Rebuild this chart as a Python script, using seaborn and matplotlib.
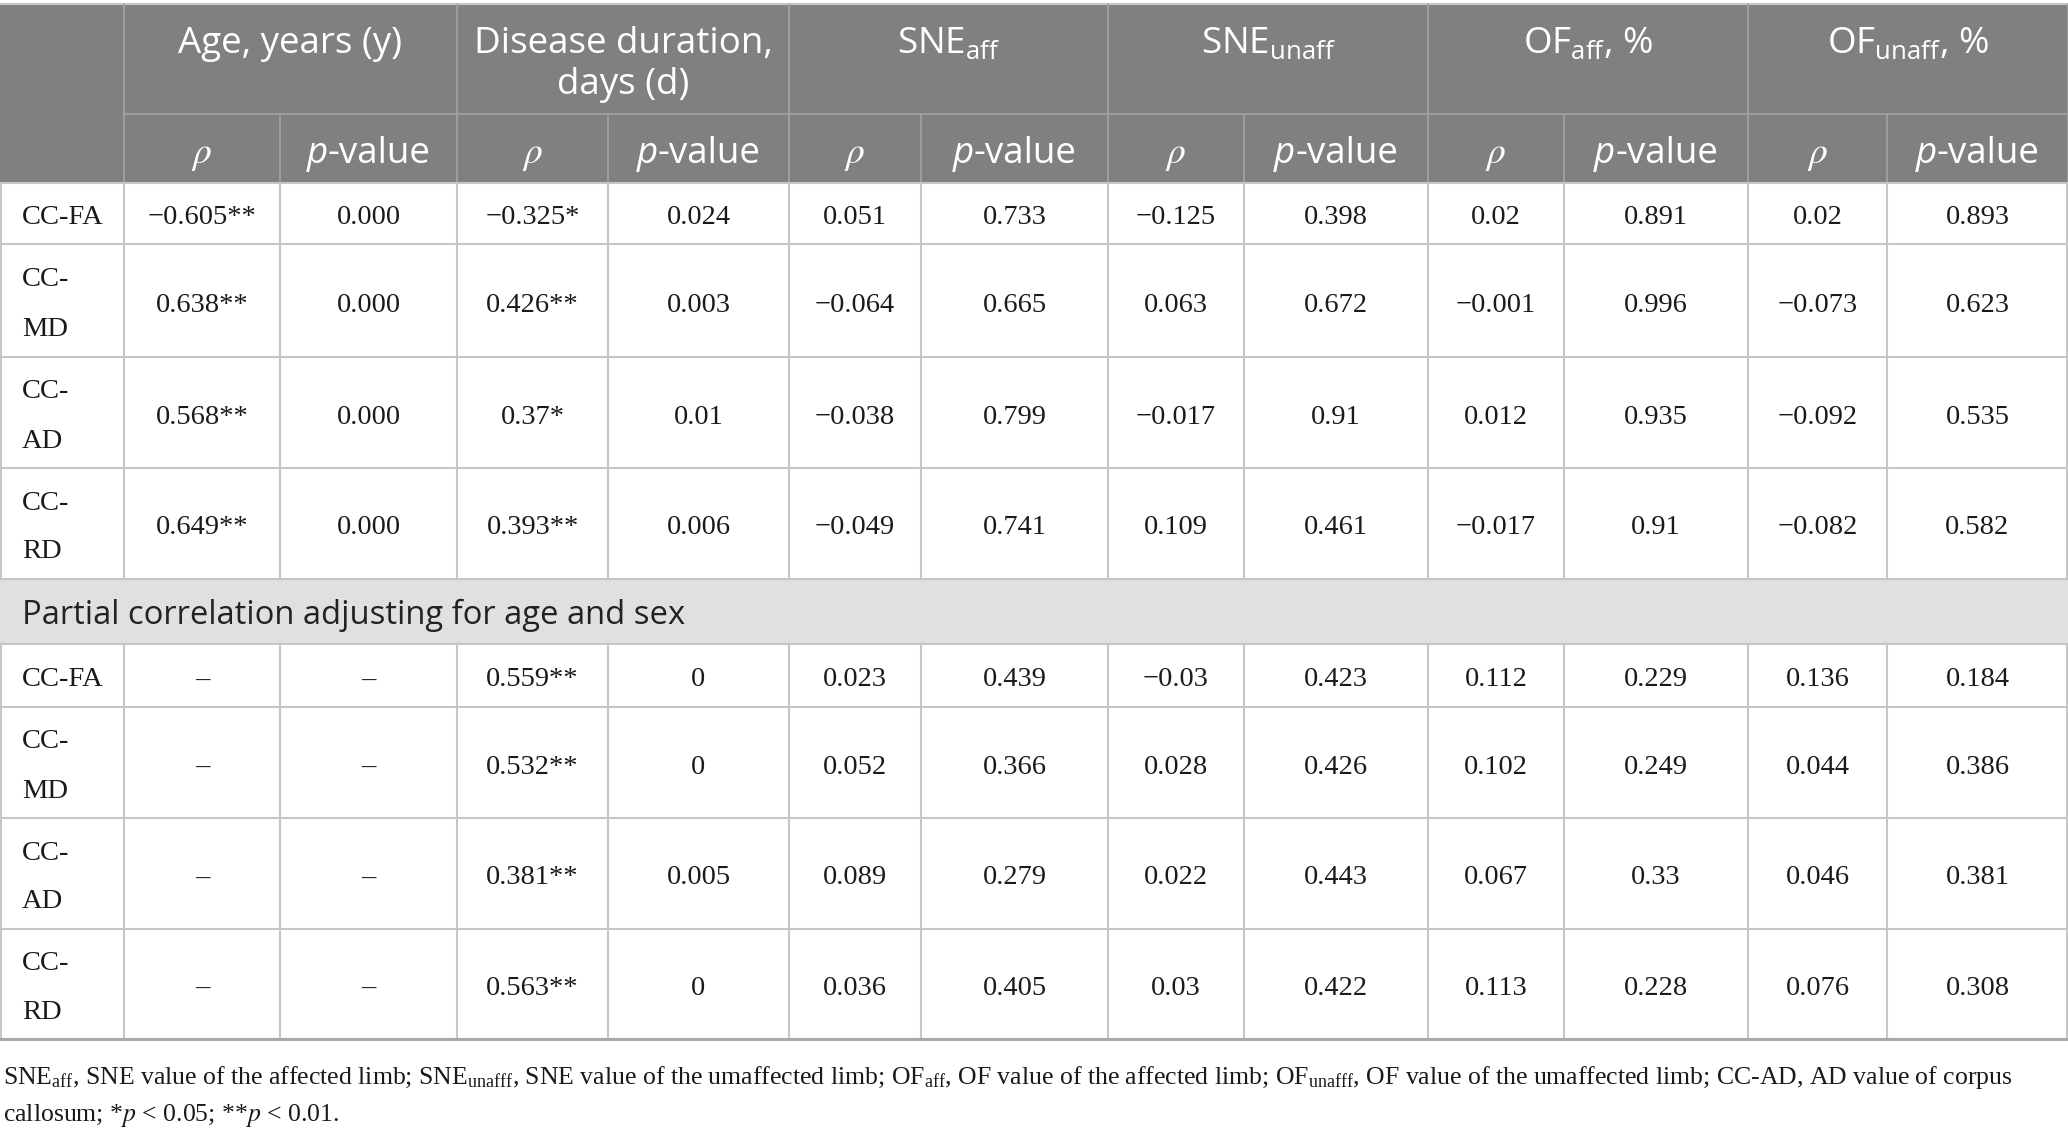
import matplotlib
matplotlib.use("Agg")
import matplotlib.pyplot as plt
import seaborn as sns
import pandas as pd
from matplotlib.patches import Rectangle

# ---- data ----
row_labels = ["CC-FA", "CC-MD", "CC-AD", "CC-RD"]
section_title = "Partial correlation adjusting for age and sex"

# first 4 values: correlation, last 4: partial correlation adjusting for age and sex
age_rho = ["\u22120.605**", "0.638**", "0.568**", "0.649**", "\u2013", "\u2013", "\u2013", "\u2013"]
age_p = ["0.000", "0.000", "0.000", "0.000", "\u2013", "\u2013", "\u2013", "\u2013"]
dur_rho = ["\u22120.325*", "0.426**", "0.37*", "0.393**", "0.559**", "0.532**", "0.381**", "0.563**"]
dur_p = ["0.024", "0.003", "0.01", "0.006", "0", "0", "0.005", "0"]
sne_aff_rho = ["0.051", "\u22120.064", "\u22120.038", "\u22120.049", "0.023", "0.052", "0.089", "0.036"]
sne_aff_p = ["0.733", "0.665", "0.799", "0.741", "0.439", "0.366", "0.279", "0.405"]
sne_unaff_rho = ["\u22120.125", "0.063", "\u22120.017", "0.109", "\u22120.03", "0.028", "0.022", "0.03"]
sne_unaff_p = ["0.398", "0.672", "0.91", "0.461", "0.423", "0.426", "0.443", "0.422"]
of_aff_rho = ["0.02", "\u22120.001", "0.012", "\u22120.017", "0.112", "0.102", "0.067", "0.113"]
of_aff_p = ["0.891", "0.996", "0.935", "0.91", "0.229", "0.249", "0.33", "0.228"]
of_unaff_rho = ["0.02", "\u22120.073", "\u22120.092", "\u22120.082", "0.136", "0.044", "0.046", "0.076"]
of_unaff_p = ["0.893", "0.623", "0.535", "0.582", "0.184", "0.386", "0.381", "0.308"]

group_headers = [
    ["Age, years (y)"],
    ["Disease duration,", "days (d)"],
    ["SNE$\\mathregular{_{aff}}$"],
    ["SNE$\\mathregular{_{unaff}}$"],
    ["OF$\\mathregular{_{aff}}$, %"],
    ["OF$\\mathregular{_{unaff}}$, %"],
]

footer_lines = [
    "SNE$\\mathregular{_{aff}}$, SNE value of the affected limb; SNE$\\mathregular{_{unafff}}$, "
    "SNE value of the umaffected limb; OF$\\mathregular{_{aff}}$, OF value of the affected limb; "
    "OF$\\mathregular{_{unafff}}$, OF value of the umaffected limb; CC-AD, AD value of corpus",
    "callosum; *$p$ < 0.05; **$p$ < 0.01.",
]

table = pd.DataFrame({
    "age_rho": age_rho, "age_p": age_p,
    "dur_rho": dur_rho, "dur_p": dur_p,
    "sne_aff_rho": sne_aff_rho, "sne_aff_p": sne_aff_p,
    "sne_unaff_rho": sne_unaff_rho, "sne_unaff_p": sne_unaff_p,
    "of_aff_rho": of_aff_rho, "of_aff_p": of_aff_p,
    "of_unaff_rho": of_unaff_rho, "of_unaff_p": of_unaff_p,
})
table["label"] = row_labels + row_labels

# ---- layout (pixels) ----
W, H = 2068, 1132
col_edges = [0, 124, 280, 457, 608, 789, 921, 1108, 1244, 1428, 1564, 1748, 1887, 2068]
head_top, head_mid, head_bot = 4, 114, 183
body_edges = [183, 244, 357, 468, 579]
sect_edges = [579, 644]
part_edges = [644, 707, 818, 929, 1039]

HEAD_BG = "#808080"
HEAD_LINE = "#a3a3a3"
GRID = "#c6c6c6"
SECT_BG = "#e0e0e0"
TEXT = "#1a1a1a"

sns.set_theme(style="white")
plt.rcParams["mathtext.fontset"] = "stix"
plt.rcParams["font.family"] = ["Liberation Serif", "DejaVu Serif"]

fig = plt.figure(figsize=(W / 100, H / 100), dpi=100)
ax = fig.add_axes([0, 0, 1, 1])
ax.set_xlim(0, W)
ax.set_ylim(H, 0)
ax.axis("off")

head_font = dict(family=["Open Sans", "DejaVu Sans"], size=26.5, color="white")
body_font = dict(family=["Liberation Serif", "DejaVu Serif"], size=20.5, color=TEXT)

# header background
ax.add_patch(Rectangle((0, head_top), W, head_bot - head_top, color=HEAD_BG, lw=0))
# section background
ax.add_patch(Rectangle((0, sect_edges[0]), W, sect_edges[1] - sect_edges[0], color=SECT_BG, lw=0))

# header lines
group_edges = [col_edges[0]] + col_edges[1::2] + [col_edges[-1]]
ax.plot([0, W], [head_top, head_top], color=GRID, lw=1.5)
ax.plot([col_edges[1], W], [head_mid, head_mid], color=HEAD_LINE, lw=1.2)
for x in group_edges[1:-1]:
    ax.plot([x, x], [head_top, head_bot], color=HEAD_LINE, lw=1.2)
for x in col_edges[2:-1:2]:
    ax.plot([x, x], [head_mid, head_bot], color=HEAD_LINE, lw=1.2)

# body grid
for edges in (body_edges, part_edges):
    for y in edges:
        ax.plot([0, W], [y, y], color=GRID, lw=1.5)
    for x in col_edges:
        xx = min(max(x, 1), W - 1)
        ax.plot([xx, xx], [edges[0], edges[-1]], color=GRID, lw=1.5)
ax.plot([0, W], [part_edges[-1], part_edges[-1]], color="#a8a8a8", lw=2.2)

fig.canvas.draw()
renderer = fig.canvas.get_renderer()


def seg_text(xc, y, segments, font):
    # draw text pieces side by side, centred on xc
    items = []
    for s, style in segments:
        t = ax.text(0, y, s, fontstyle=style, ha="left", va="baseline", **font)
        items.append(t)
    widths = [t.get_window_extent(renderer).width for t in items]
    x = xc - sum(widths) / 2
    for t, w in zip(items, widths):
        t.set_x(x)
        x += w


# group headers
for g, lines in enumerate(group_headers):
    xc = (col_edges[1 + 2 * g] + col_edges[3 + 2 * g]) / 2
    for k, line in enumerate(lines):
        ax.text(xc, 53 + 41 * k, line, ha="center", va="baseline", **head_font)

# sub headers
for g in range(6):
    x_rho = (col_edges[1 + 2 * g] + col_edges[2 + 2 * g]) / 2
    x_p = (col_edges[2 + 2 * g] + col_edges[3 + 2 * g]) / 2
    ax.text(x_rho, 163, "$\\rho$", ha="center", va="baseline", color="white", size=27)
    seg_text(x_p, 163, [("p", "italic"), ("-value", "normal")], head_font)

value_cols = [c for c in table.columns if c != "label"]


def draw_rows(sub, edges):
    for i, (_, row) in enumerate(sub.iterrows()):
        top, bot = edges[i], edges[i + 1]
        yc = (top + bot) / 2
        if bot - top > 80:
            a, b = row["label"].split("-")
            ax.text(22, yc - 14, a + "-", ha="left", va="baseline", **body_font)
            ax.text(22, yc + 35, b, ha="left", va="baseline", **body_font)
        else:
            ax.text(22, yc + 11, row["label"], ha="left", va="baseline", **body_font)
        for j, c in enumerate(value_cols):
            xc = (col_edges[j + 1] + col_edges[j + 2]) / 2
            ax.text(xc, yc + 11, row[c], ha="center", va="baseline", **body_font)


draw_rows(table.iloc[:4], body_edges)
draw_rows(table.iloc[4:], part_edges)

ax.text(22, 624, section_title, ha="left", va="baseline",
        family=["Open Sans", "DejaVu Sans"], size=23.6, color="#222222")

# footnote, sized so the first line fills the width like the original
foot = [ax.text(3, 1084 + 37 * k, s, ha="left", va="baseline",
                family=["Liberation Serif", "DejaVu Serif"], size=17, color=TEXT)
        for k, s in enumerate(footer_lines)]
w0 = foot[0].get_window_extent(renderer).width
scale = 2015 / w0
for t in foot:
    t.set_fontsize(17 * scale)

fig.savefig("out.png", dpi=100)
